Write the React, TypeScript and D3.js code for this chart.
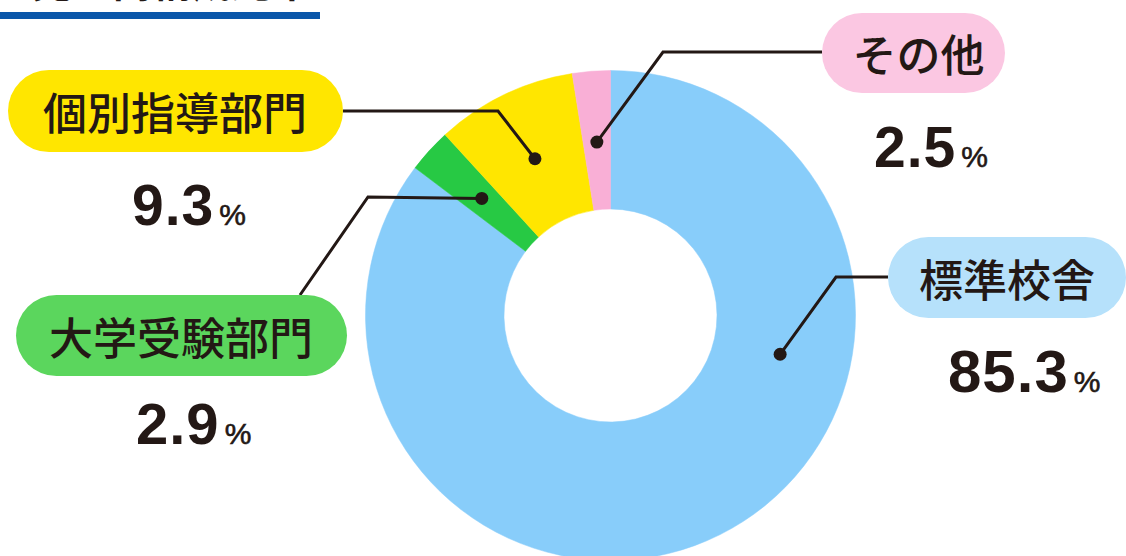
import React from "react";
import * as d3 from "d3";

const categories = ["標準校舎", "大学受験部門", "個別指導部門", "その他"];
const values = [85.3, 2.9, 9.3, 2.5];
const valueLabels = ["85.3", "2.9", "9.3", "2.5"];
const sliceColors = ["#88cdfa", "#27c944", "#ffe600", "#f9afd6"];
const pillColors = ["#b6e1fb", "#5bd65d", "#ffe600", "#fbc7e2"];
// where along each slice the leader dot sits (0..1 of slice span)
const dotFractions = [0.335, 0.5, 0.5, 0.5];

const W = 1126;
const H = 556;
const cx = 610.5;
const cy = 315.5;
const outerR = 245;
const innerR = 106.5;
const dotR = 174;
const ink = "#231815";

// layout of callouts: pill box, label centre, number position, leader elbow + end
const callouts = [
  { pill: [888, 237, 238, 81], tx: 1007, ty: 277.5, nx: 948, ny: 392, ns: 60, elbow: [836, 277], end: [888, 277] },
  { pill: [16, 295, 331, 81], tx: 181, ty: 336, nx: 136, ny: 444, ns: 58, elbow: [368, 197], end: [300, 295] },
  { pill: [8, 70, 335, 82], tx: 175, ty: 111, nx: 132, ny: 225, ns: 57, elbow: [498, 111], end: [343, 111] },
  { pill: [822, 13, 183, 80], tx: 918.5, ty: 53, nx: 874, ny: 167, ns: 57, elbow: [663, 52], end: [822, 52] },
];

export default function App() {
  const pie = d3.pie<number>().value((d) => d).sort(null).startAngle(0).endAngle(2 * Math.PI);
  const arcs = pie(values);
  const arcGen = d3.arc<d3.PieArcDatum<number>>().innerRadius(innerR).outerRadius(outerR);

  return (
    <div style={{ position: "absolute", left: 0, top: 0 }}>
      <svg width={W} height={H} viewBox={`0 0 ${W} ${H}`} style={{ display: "block", background: "#fff" }}>
        {/* cropped title */}
        <text x={-8} y={-3} fontSize={40} fontFamily="'Noto Sans CJK JP'" fontWeight={700} fill={ink}>
          る売上高構成比率
        </text>
        <rect x={0} y={12} width={320} height={7} fill="#0a57aa" />

        <g transform={`translate(${cx},${cy})`}>
          {arcs.map((a, i) => (
            <path key={categories[i]} d={arcGen(a) || ""} fill={sliceColors[i]} stroke={sliceColors[i]} strokeWidth={0.5} />
          ))}
        </g>

        {arcs.map((a, i) => {
          const c = callouts[i];
          const ang = a.startAngle + (a.endAngle - a.startAngle) * dotFractions[i];
          const dx = cx + dotR * Math.sin(ang);
          const dy = cy - dotR * Math.cos(ang);
          const [px, py, pw, ph] = c.pill;
          return (
            <g key={"c" + i}>
              <polyline
                points={`${dx},${dy} ${c.elbow[0]},${c.elbow[1]} ${c.end[0]},${c.end[1]}`}
                fill="none"
                stroke={ink}
                strokeWidth={3}
                strokeLinejoin="miter"
              />
              <circle cx={dx} cy={dy} r={6.5} fill={ink} />
              <rect x={px} y={py} width={pw} height={ph} rx={ph / 2} ry={ph / 2} fill={pillColors[i]} />
              <text
                x={c.tx}
                y={c.ty}
                textAnchor="middle"
                dominantBaseline="central"
                fontSize={44}
                fontFamily="'Noto Sans CJK JP'"
                fontWeight={500}
                fill={ink}
              >
                {categories[i]}
              </text>
              <text x={c.nx} y={c.ny} fontFamily="'Liberation Sans', Arial, sans-serif" fill={ink}>
                <tspan fontSize={c.ns} fontWeight={700} letterSpacing={1}>
                  {valueLabels[i]}
                </tspan>
                <tspan fontSize={30} fontWeight={400} dx={5} stroke={ink} strokeWidth={0.6}>
                  %
                </tspan>
              </text>
            </g>
          );
        })}
      </svg>
    </div>
  );
}
